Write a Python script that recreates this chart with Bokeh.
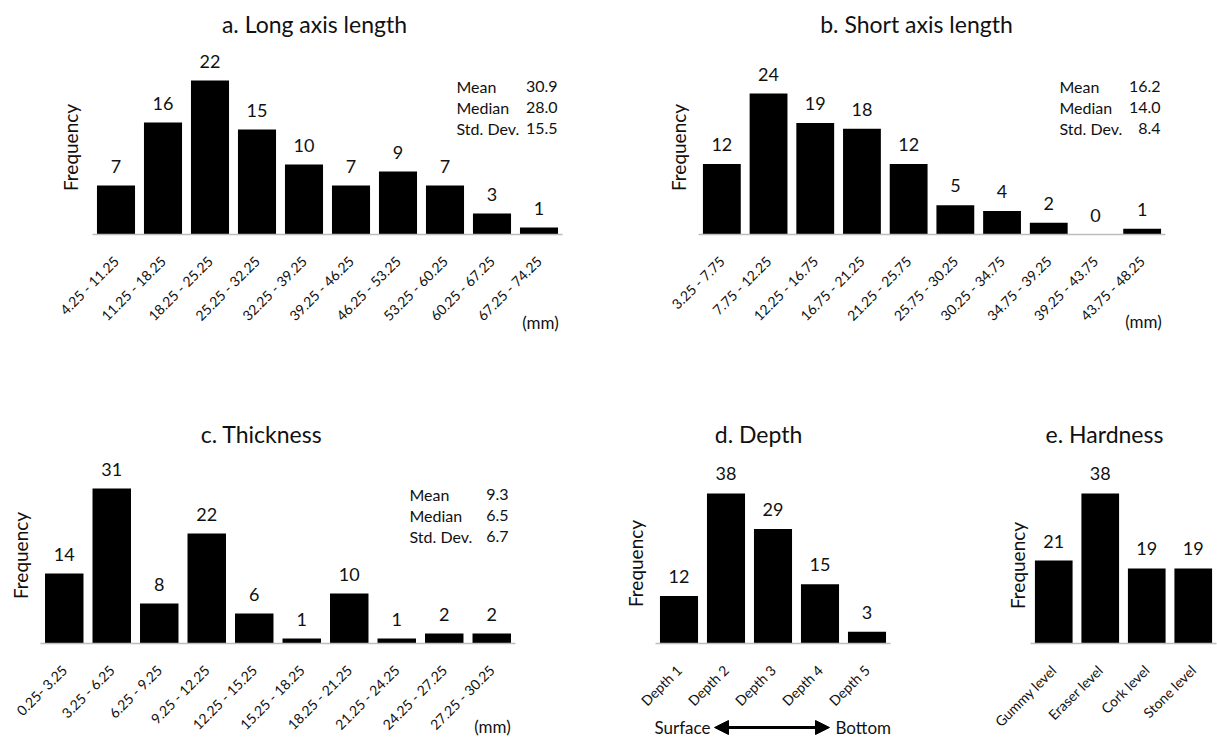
import math
from bokeh.plotting import figure
from bokeh.models import (Range1d, Label, LabelSet, ColumnDataSource, Arrow, NormalHead,
                          FixedTicker)
from bokeh.core.properties import value
from bokeh.layouts import column, row
from bokeh.embed import file_html
from bokeh.resources import INLINE

# ---------------- data ----------------
a_bins = ["4.25 - 11.25", "11.25 - 18.25", "18.25 - 25.25", "25.25 - 32.25", "32.25 - 39.25",
          "39.25 - 46.25", "46.25 - 53.25", "53.25 - 60.25", "60.25 - 67.25", "67.25 - 74.25"]
a_counts = [7, 16, 22, 15, 10, 7, 9, 7, 3, 1]

b_bins = ["3.25 - 7.75", "7.75 - 12.25", "12.25 - 16.75", "16.75 - 21.25", "21.25 - 25.75",
          "25.75 - 30.25", "30.25 - 34.75", "34.75 - 39.25", "39.25 - 43.75", "43.75 - 48.25"]
b_counts = [12, 24, 19, 18, 12, 5, 4, 2, 0, 1]

c_bins = ["0.25- 3.25", "3.25 - 6.25", "6.25 - 9.25", "9.25 - 12.25", "12.25 - 15.25",
          "15.25 - 18.25", "18.25 - 21.25", "21.25 - 24.25", "24.25 - 27.25", "27.25 - 30.25"]
c_counts = [14, 31, 8, 22, 6, 1, 10, 1, 2, 2]

d_cats = ["Depth 1", "Depth 2", "Depth 3", "Depth 4", "Depth 5"]
d_counts = [12, 38, 29, 15, 3]

e_cats = ["Gummy level", "Eraser level", "Cork level", "Stone level"]
e_counts = [21, 38, 19, 19]

stat_names = ["Mean", "Median", "Std. Dev."]
a_stats = ["30.9", "28.0", "15.5"]
b_stats = ["16.2", "14.0", "8.4"]
c_stats = ["9.3", "6.5", "6.7"]

titles = ["a. Long axis length", "b. Short axis length", "c. Thickness", "d. Depth", "e. Hardness"]
y_label = "Frequency"
unit_label = "(mm)"
depth_left, depth_right = "Surface", "Bottom"

FONT = "Lato"
TXT = "#111111"


class Panel:
    """One histogram; the plot frame covers the whole figure so no text is clipped.
    Geometry is given in page pixels: figure box (ox, oy, W, H), bar region
    [bar_l, bar_r] and baseline row `base`."""

    def __init__(self, cats, counts, ox, oy, W, H, bar_l, bar_r, base, ppu):
        self.ox, self.oy = ox, oy
        n = len(cats)
        pitch = (bar_r - bar_l) / n
        xs = list(range(n))
        x0 = -0.5 - (bar_l - ox) / pitch
        x1 = x0 + W / pitch
        y1 = (base - oy) / ppu
        y0 = y1 - H / ppu
        p = figure(width=W, height=H, x_range=Range1d(x0, x1), y_range=Range1d(y0, y1),
                   output_backend="svg", toolbar_location=None, min_border=0,
                   min_border_left=0, min_border_right=0, min_border_top=0,
                   min_border_bottom=0)
        p.outline_line_color = None
        p.xgrid.visible = False
        p.ygrid.visible = False
        p.yaxis.visible = False
        p.background_fill_color = "white"
        p.border_fill_color = "white"

        p.vbar(x=xs, top=counts, width=0.81, fill_color="black", line_color=None)

        xa = p.xaxis[0]
        xa.fixed_location = 0
        xa.bounds = (-0.5, n - 0.5)
        xa.ticker = FixedTicker(ticks=xs)
        xa.major_label_overrides = {i: c for i, c in zip(xs, cats)}
        xa.axis_line_color = "#bdbdbd"
        xa.axis_line_width = 1.5
        xa.major_tick_line_color = None
        xa.minor_tick_line_color = None
        xa.major_label_orientation = math.pi / 4
        xa.major_label_text_font = FONT
        xa.major_label_text_font_size = "14px"
        xa.major_label_text_color = TXT
        xa.major_label_standoff = 18

        src = ColumnDataSource(dict(x=xs, y=counts, t=[str(v) for v in counts]))
        p.add_layout(LabelSet(x="x", y="y", text="t", source=src, y_offset=13,
                              text_align="center", text_baseline="alphabetic",
                              text_font=value(FONT), text_font_size="18px",
                              text_color=TXT))
        self.p = p

    def text(self, ax, ay, text, align="center", size="23px", angle=0.0):
        self.p.add_layout(Label(x=ax - self.ox, y=ay - self.oy, x_units="canvas",
                                y_units="canvas", text=text, text_align=align,
                                text_baseline="middle", angle=angle, text_font=FONT,
                                text_font_size=size, text_color=TXT))

    def stats(self, names, vals, x_name, x_val, y_top):
        for i, (nm, vv) in enumerate(zip(names, vals)):
            self.text(x_name, y_top + 21 * i, nm, align="left", size="16px")
            self.text(x_val, y_top + 21 * i, vv, align="right", size="16px")


# Row 1: page y 0..378, baseline 234 ; Row 2: page y 378..738, baseline 643
H1, H2 = 378, 360
A = Panel(a_bins, a_counts, 0, 0, 620, H1, 92, 562, 234, 7.0)
B = Panel(b_bins, b_counts, 620, 0, 597, H1, 698, 1165, 234, 5.875)
C = Panel(c_bins, c_counts, 0, H1, 600, H2, 40, 515, 643, 5.0)
D = Panel(d_cats, d_counts, 600, H1, 360, H2, 655, 890, 643, 3.95)
E = Panel(e_cats, e_counts, 960, H1, 257, H2, 1030, 1216, 643, 3.95)

# titles
A.text(314, 23, titles[0])
B.text(916, 23, titles[1])
C.text(261, 433, titles[2])
D.text(758, 433, titles[3])
E.text(1104, 433, titles[4])

# y-axis titles
vert = math.pi / 2
A.text(70, 147, y_label, size="19px", angle=vert)
B.text(678, 147, y_label, size="19px", angle=vert)
C.text(20, 555, y_label, size="19px", angle=vert)
D.text(635, 563, y_label, size="19px", angle=vert)
E.text(1017, 565, y_label, size="19px", angle=vert)

# summary statistics
A.stats(stat_names, a_stats, 456, 557, 86)
B.stats(stat_names, b_stats, 1059, 1160, 86)
C.stats(stat_names, c_stats, 409, 508, 494)

# units
A.text(540, 322, unit_label, size="17px")
B.text(1143, 321, unit_label, size="17px")
C.text(492, 726, unit_label, size="17px")

# Surface <-> Bottom under panel d
D.text(710, 727, depth_left, align="right", size="17px")
D.text(835, 727, depth_right, align="left", size="17px")
D.p.add_layout(Arrow(x_start=714 - 600, y_start=727 - H1, x_end=829 - 600, y_end=727 - H1,
                     start_units="canvas", end_units="canvas",
                     line_width=3, line_color="black",
                     start=NormalHead(size=14, fill_color="black", line_color="black"),
                     end=NormalHead(size=14, fill_color="black", line_color="black")))

layout = column(row(A.p, B.p), row(C.p, D.p, E.p))
open("out.html", "w").write(file_html(layout, INLINE))
